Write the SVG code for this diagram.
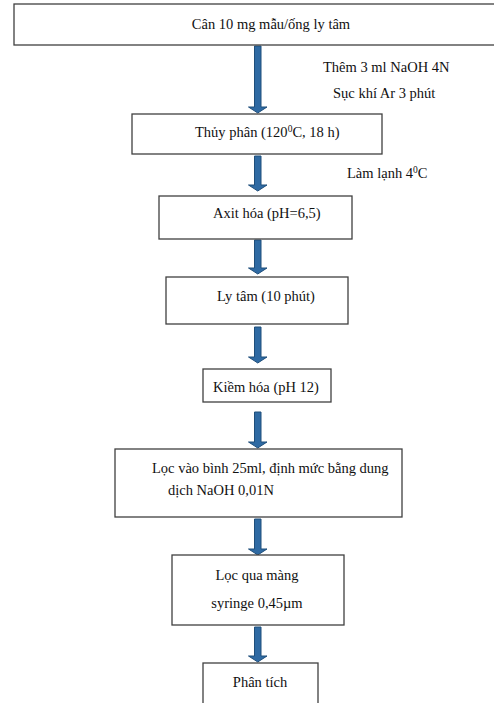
<svg xmlns="http://www.w3.org/2000/svg" width="494" height="703" viewBox="0 0 494 703">
<style>
.box{fill:#fff;stroke:#404040;stroke-width:1.3}
.t{font-family:"Liberation Serif","Times New Roman",serif;font-size:14.5px;fill:#111}
.c{text-anchor:middle}
.sup{font-size:9.5px}
.arr{fill:#2f6aa3;stroke:#1f4e7a;stroke-width:1}
</style>
<rect width="494" height="703" fill="#fff"/>
<g id="connectors">
<path class="arr" d="M254.5,46 H261 V107 H267 L257.75,113 L248.5,107 H254.5 Z"/>
<path class="arr" d="M254.5,156 H261 V185 H267 L257.75,191 L248.5,185 H254.5 Z"/>
<path class="arr" d="M254.5,240 H261 V268 H267 L257.75,274 L248.5,268 H254.5 Z"/>
<path class="arr" d="M254.5,327 H261 V357 H267 L257.75,363 L248.5,357 H254.5 Z"/>
<path class="arr" d="M254.5,412 H261 V442 H267 L257.75,448 L248.5,442 H254.5 Z"/>
<path class="arr" d="M254.5,519 H261 V549 H267 L257.75,555 L248.5,549 H254.5 Z"/>
<path class="arr" d="M254.5,627 H261 V656 H267 L257.75,662 L248.5,656 H254.5 Z"/>
</g>
<g id="label1">
<text class="t" x="323" y="72">Thêm 3 ml NaOH 4N</text>
<text class="t" x="333" y="98">Sục khí Ar 3 phút</text>
</g>
<g id="label2">
<text class="t" x="347" y="178">Làm lạnh 4<tspan class="sup" dy="-5">0</tspan><tspan dy="5">C</tspan></text>
</g>
<g id="n1">
<rect class="box" x="14" y="4" width="490" height="41"/>
<text class="t c" x="271" y="29">Cân 10 mg mẫu/ống ly tâm</text>
</g>
<g id="n2">
<rect class="box" x="132" y="114" width="250" height="40"/>
<text class="t" x="195" y="137">Thủy phân (120<tspan class="sup" dy="-5">0</tspan><tspan dy="5">C, 18 h)</tspan></text>
</g>
<g id="n3">
<rect class="box" x="159" y="196" width="193" height="43"/>
<text class="t" x="213" y="218">Axit hóa (pH=6,5)</text>
</g>
<g id="n4">
<rect class="box" x="166" y="277" width="182" height="47"/>
<text class="t" x="217" y="301">Ly tâm (10 phút)</text>
</g>
<g id="n5">
<rect class="box" x="203" y="369" width="128" height="33"/>
<text class="t" x="213" y="392">Kiềm hóa (pH 12)</text>
</g>
<g id="n6">
<rect class="box" x="115" y="449" width="287" height="68"/>
<text class="t" x="152" y="473">Lọc vào bình 25ml, định mức bằng dung</text>
<text class="t" x="168" y="495">dịch NaOH 0,01N</text>
</g>
<g id="n7">
<rect class="box" x="172" y="555" width="172" height="70"/>
<text class="t c" x="257" y="580">Lọc qua màng</text>
<text class="t c" x="257" y="608">syringe 0,45µm</text>
</g>
<g id="n8">
<rect class="box" x="203" y="663" width="115" height="50"/>
<text class="t c" x="260" y="687">Phân tích</text>
</g>
</svg>
